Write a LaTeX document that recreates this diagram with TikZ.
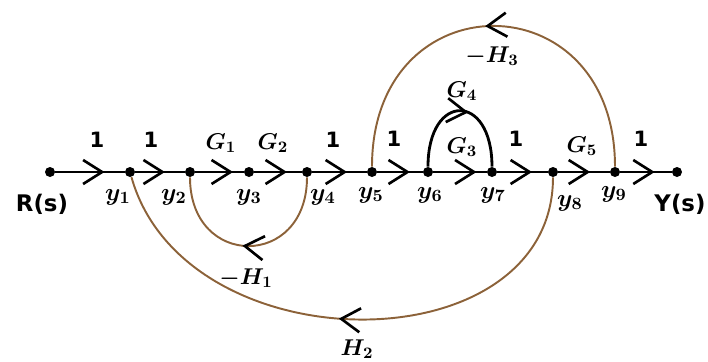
\RequirePackage{fix-cm}
\documentclass[tikz,border=0pt]{standalone}
\usepackage{amsmath,amssymb}
\usepackage{fontspec}
\setsansfont{DejaVu Sans}
\usepackage{tikz}
\usetikzlibrary{arrows.meta,decorations.markings}
\definecolor{loopbrown}{HTML}{8C6239}

\begin{document}
\begin{tikzpicture}[x=0.02cm, y=-0.02cm,
    sgdot/.style={circle, fill=black, inner sep=0pt, minimum size=2mm},
    gain/.style={font=\sffamily\bfseries\fontsize{12}{14}\selectfont, inner sep=1pt},
    io/.style={font=\sffamily\bfseries\fontsize{13}{15}\selectfont, inner sep=1pt},
    sym/.style={font=\fontsize{13}{15}\selectfont\boldmath, inner sep=1pt},
    ylab/.style={font=\fontsize{14}{16}\selectfont\boldmath, inner sep=1pt},
    chev/.style={decoration={markings, mark=at position #1 with {\arrow[black,line width=1.5pt]{Straight Barb[length=3.8mm,width=4.8mm]}}}, postaction={decorate}},
    chevflat/.style={decoration={markings, mark=at position #1 with {\pgftransformresetnontranslations\pgftransformrotate{-6}\arrow[black,line width=1.5pt]{Straight Barb[length=3.8mm,width=4.8mm]}}}, postaction={decorate}},
    branch/.style={line width=1.6pt, chev=#1},
    branch/.default=0.68,
    fb/.style={draw=loopbrown, line width=1.1pt, chev=#1}
]
\useasboundingbox (0,0) rectangle (708,362);
% nodes on the forward path
\node[sgdot] (rs) at (50,172) {};
\node[sgdot] (y1) at (130,172) {};
\node[sgdot] (y2) at (190,172) {};
\node[sgdot] (y3) at (249,172) {};
\node[sgdot] (y4) at (307,172) {};
\node[sgdot] (y5) at (372,172) {};
\node[sgdot] (y6) at (428,172) {};
\node[sgdot] (y7) at (492,172) {};
\node[sgdot] (y8) at (553,172) {};
\node[sgdot] (y9) at (615,172) {};
\node[sgdot] (ys) at (677,172) {};
% forward branches
\draw[branch=0.71] (rs) -- (y1);
\draw[branch=0.60] (y1) -- (y2);
\draw[branch=0.78] (y2) -- (y3);
\draw[branch=0.69] (y3) -- (y4);
\draw[branch=0.64] (y4) -- (y5);
\draw[branch=0.72] (y5) -- (y6);
\draw[branch=0.81] (y6) -- (y7);
\draw[branch=0.69] (y7) -- (y8);
\draw[branch=0.62] (y8) -- (y9);
\draw[branch=0.67] (y9) -- (ys);
\draw[line width=1.6pt, chevflat=0.56] (y6) .. controls +(0,-80) and +(0,-80) .. (y7);
% feedback loops
\draw[fb=0.53] (y4) .. controls +(0,97) and +(0,97) .. (y2);
\draw[fb=0.52] (y8) .. controls +(0,195) and +(55,195) .. (y1);
\draw[fb=0.52] (y9) .. controls +(0,-193) and +(0,-193) .. (y5);
% branch gains
\node[gain] (g01) at (97,140) {1};
\node[gain] (g12) at (151,140) {1};
\node[sym] (g23) at (221,143) {$G_1$};
\node[sym] (g34) at (273,143) {$G_2$};
\node[gain] (g45) at (333,140) {1};
\node[gain] (g56) at (394,139) {1};
\node[sym] (g67b) at (462,91) {$G_4$};
\node[sym] (g67a) at (462,147) {$G_3$};
\node[gain] (g78) at (516,139) {1};
\node[sym] (g89) at (582,146) {$G_5$};
\node[gain] (g9y) at (641,139) {1};
\node[sym] (h1) at (246,278) {$-H_1$};
\node[sym] (h2) at (357,349) {$H_2$};
\node[sym] (h3) at (492,56) {$-H_3$};
% node names
\node[io] (lrs) at (42,204) {R(s)};
\node[io] (lys) at (680,204) {Y(s)};
\node[ylab] (ly1) at (118,197) {$y_1$};
\node[ylab] (ly2) at (174,197) {$y_2$};
\node[ylab] (ly3) at (249,197) {$y_3$};
\node[ylab] (ly4) at (323,197) {$y_4$};
\node[ylab] (ly5) at (371,195) {$y_5$};
\node[ylab] (ly6) at (430,195) {$y_6$};
\node[ylab] (ly7) at (493,195) {$y_7$};
\node[ylab] (ly8) at (570,203) {$y_8$};
\node[ylab] (ly9) at (614,194) {$y_9$};
\end{tikzpicture}
\end{document}
